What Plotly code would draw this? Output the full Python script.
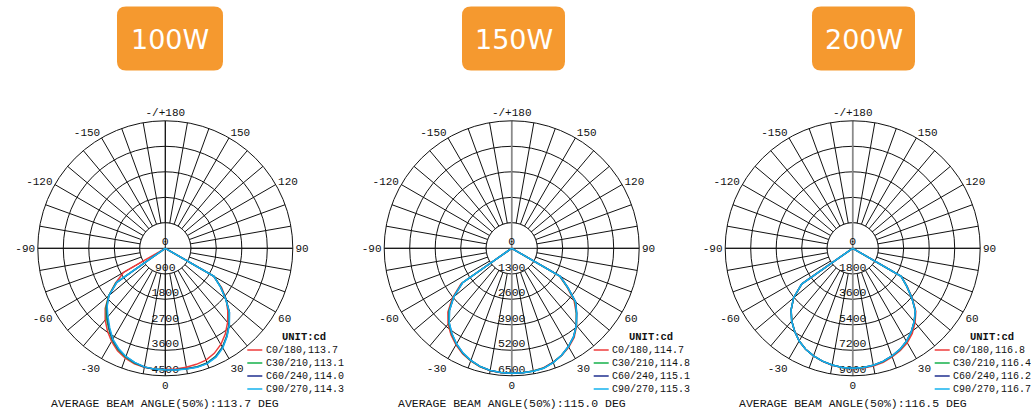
import numpy as np
import plotly.graph_objects as go

W, H = 1031, 409

# ---------------- data ----------------
titles = ["100W", "150W", "200W"]
avg_beam = [113.7, 115.0, 116.5]
plane_names = ["C0/180", "C30/210", "C60/240", "C90/270"]
plane_beam = [
    [113.7, 113.1, 114.0, 114.3],
    [114.7, 114.8, 115.1, 115.3],
    [116.8, 116.4, 116.2, 116.7],
]
radial_ticks = [
    [0, 900, 1800, 2700, 3600, 4500],
    [0, 1300, 2600, 3900, 5200, 6500],
    [0, 1800, 3600, 5400, 7200, 9000],
]
angle_tickvals = list(range(0, 360, 10))
angle_labels = {0: "0", 30: "30", 60: "60", 90: "90", 120: "120", 150: "150",
                180: "-/+180", 210: "-150", 240: "-120", 270: "-90", 300: "-60", 330: "-30"}

gamma = [-90, -60, -55, -50, -45, -40, -35, -30, -25, -20, -15, -10, -5, 0,
         5, 10, 15, 20, 25, 30, 35, 40, 45, 50, 55, 60, 90]

# 100W
c1_C0 = [0, 1700, 2150, 2600, 3000, 3300, 3560, 3790, 3990, 4130, 4220, 4265, 4280, 4280,
         4275, 4260, 4240, 4200, 4090, 3920, 3690, 3420, 3120, 2800, 2430, 1960, 0]
c1_C30 = [0, 0, 2130, 2610, 2960, 3230, 3480, 3740, 3945, 4090, 4195, 4258, 4284, 4290,
          4302, 4315, 4330, 4305, 4205, 4030, 3780, 3500, 3190, 2790, 2390, 1985, 0]
c1_C60 = [0, 0, 2090, 2600, 2920, 3180, 3450, 3720, 3920, 4070, 4180, 4255, 4282, 4290,
          4305, 4320, 4340, 4320, 4220, 4040, 3790, 3510, 3200, 2790, 2380, 1985, 0]
c1_C90 = [0, 0, 2080, 2600, 2900, 3150, 3420, 3700, 3900, 4060, 4170, 4250, 4280, 4290,
          4310, 4330, 4350, 4330, 4240, 4060, 3800, 3520, 3200, 2780, 2370, 1980, 0]
# 150W
c2_C0 = [0, 0, 3150, 3950, 4600, 5050, 5390, 5680, 5930, 6110, 6250, 6330, 6365, 6370,
         6365, 6350, 6300, 6180, 6030, 5820, 5550, 5150, 4650, 4150, 3450, 2800, 0]
c2_C30 = [0, 0, 3080, 3880, 4520, 4990, 5340, 5640, 5900, 6090, 6240, 6325, 6362, 6370,
          6368, 6355, 6320, 6190, 6020, 5790, 5510, 5130, 4670, 4220, 3480, 2830, 0]
c2_C60 = [0, 0, 3060, 3860, 4490, 4960, 5320, 5630, 5890, 6085, 6235, 6322, 6361, 6370,
          6370, 6358, 6325, 6195, 6015, 5780, 5500, 5120, 4690, 4260, 3510, 2860, 0]
c2_C90 = [0, 0, 3050, 3850, 4480, 4950, 5310, 5620, 5880, 6080, 6230, 6320, 6360, 6370,
          6370, 6360, 6330, 6200, 6020, 5780, 5500, 5130, 4680, 4250, 3500, 2850, 0]
# 200W
c3_C0 = [0, 0, 4380, 5440, 6140, 6690, 7140, 7550, 7860, 8080, 8260, 8380, 8450, 8480,
         8480, 8430, 8330, 8150, 7960, 7700, 7330, 6850, 6300, 5500, 4700, 3950, 0]
c3_C30 = [0, 0, 4390, 5445, 6145, 6695, 7145, 7555, 7860, 8080, 8250, 8370, 8440, 8470,
          8455, 8390, 8270, 8100, 7890, 7600, 7220, 6760, 6255, 5455, 4650, 3950, 0]
c3_C60 = [0, 0, 4400, 5450, 6150, 6700, 7150, 7560, 7860, 8080, 8250, 8370, 8440, 8470,
          8450, 8380, 8260, 8090, 7870, 7580, 7200, 6750, 6250, 5450, 4650, 3950, 0]
c3_C90 = [0, 0, 4400, 5450, 6150, 6700, 7150, 7560, 7860, 8080, 8250, 8370, 8440, 8470,
          8450, 8380, 8260, 8090, 7870, 7580, 7200, 6750, 6250, 5450, 4650, 3950, 0]

series = [
    [c1_C0, c1_C30, c1_C60, c1_C90],
    [c2_C0, c2_C30, c2_C60, c2_C90],
    [c3_C0, c3_C30, c3_C60, c3_C90],
]
colors = ["#ee3b3b", "#14b04a", "#1f2f8f", "#14b2ee"]

# ---------------- layout geometry (pixels) ----------------
centers_x = [165.3, 511.7, 852.7]
center_y = 248.3
R = 127.5
vaxis_colors = ["#111111", "#8a8a8a", "#8a8a8a"]
vaxis_widths = [1, 1.6, 1.6]
boxes = [(117, 223), (462, 565), (812, 915)]
box_y = (6.5, 70.5)

ink = "#111111"
mono = "Liberation Mono"


def px(x, y):
    return x / W, 1 - y / H


fig = go.Figure()
layout_polars = {}
annotations = []
shapes = []

for i in range(3):
    pname = "polar" if i == 0 else f"polar{i + 1}"
    sub = pname
    cx = centers_x[i]
    rmax = radial_ticks[i][-1]
    layout_polars[pname] = dict(
        domain=dict(x=[(cx - R) / W, (cx + R) / W],
                    y=[(H - center_y - R) / H, (H - center_y + R) / H]),
        bgcolor="white",
        angularaxis=dict(
            rotation=270, direction="counterclockwise",
            tickmode="array", tickvals=angle_tickvals,
            ticktext=[angle_labels.get(v, "") for v in angle_tickvals],
            showgrid=True, gridcolor=ink, gridwidth=1,
            showline=True, linecolor=ink, linewidth=1, ticks="",
            tickfont=dict(family=mono, size=11, color=ink),
        ),
        radialaxis=dict(
            range=[0, rmax], tickmode="array", tickvals=radial_ticks[i],
            showticklabels=False, showline=False, ticks="",
            showgrid=True, gridcolor=ink, gridwidth=1,
        ),
    )
    # white centre disc with inner ring
    th = np.linspace(0, 360, 181)
    fig.add_trace(go.Scatterpolar(
        r=[radial_ticks[i][1]] * len(th), theta=th, mode="lines",
        fill="toself", fillcolor="white", line=dict(color=ink, width=1),
        hoverinfo="skip", showlegend=False, subplot=sub))
    # main axes through the centre
    fig.add_trace(go.Scatterpolar(
        r=[rmax, 0, rmax], theta=[90, 0, 270], mode="lines",
        line=dict(color=ink, width=1), hoverinfo="skip", showlegend=False, subplot=sub))
    fig.add_trace(go.Scatterpolar(
        r=[rmax, 0, rmax], theta=[180, 0, 0], mode="lines",
        line=dict(color=vaxis_colors[i], width=vaxis_widths[i]),
        hoverinfo="skip", showlegend=False, subplot=sub))
    # radial tick labels
    fig.add_trace(go.Scatterpolar(
        r=radial_ticks[i], theta=[0] * len(radial_ticks[i]), mode="text",
        text=[str(v) for v in radial_ticks[i]], textposition="top center",
        textfont=dict(family=mono, size=11.5, color=ink),
        hoverinfo="skip", showlegend=False, subplot=sub))
    # curves
    for j in range(4):
        fig.add_trace(go.Scatterpolar(
            r=series[i][j], theta=gamma, mode="lines",
            line=dict(color=colors[j], width=1.5),
            name=f"{plane_names[j]},{plane_beam[i][j]}",
            showlegend=False, subplot=sub))

    # custom legend
    x_, y_ = px(cx + 139, 337)
    annotations.append(dict(x=x_, y=y_, xref="paper", yref="paper", text="<b>UNIT:cd</b>",
                            showarrow=False, xanchor="center", yanchor="middle",
                            font=dict(family=mono, size=10.5, color=ink)))
    rows = [350, 363, 376, 389]
    for j in range(4):
        x0, yy = px(cx + 82, rows[j])
        x1, _ = px(cx + 97, rows[j])
        shapes.append(dict(type="line", xref="paper", yref="paper", x0=x0, x1=x1, y0=yy, y1=yy,
                           line=dict(color=colors[j], width=1.5)))
        xt, _ = px(cx + 98.5, rows[j])
        annotations.append(dict(x=xt, y=yy, xref="paper", yref="paper",
                                text=f"{plane_names[j]},{plane_beam[i][j]}",
                                showarrow=False, xanchor="left", yanchor="middle",
                                font=dict(family=mono, size=10, color=ink)))
    # bottom caption
    xb, yb = px(cx, 403)
    annotations.append(dict(x=xb, y=yb, xref="paper", yref="paper",
                            text=f"AVERAGE BEAM ANGLE(50%):{avg_beam[i]:.1f} DEG",
                            showarrow=False, xanchor="center", yanchor="middle",
                            font=dict(family=mono, size=11.5, color=ink)))

    # orange title box
    bx0, bx1 = boxes[i]
    by0, by1 = box_y
    rc = 9

    def P(x, y):
        a, b = px(x, y)
        return f"{a:.6f},{b:.6f}"
    path = (f"M {P(bx0 + rc, by0)} L {P(bx1 - rc, by0)} Q {P(bx1, by0)} {P(bx1, by0 + rc)} "
            f"L {P(bx1, by1 - rc)} Q {P(bx1, by1)} {P(bx1 - rc, by1)} "
            f"L {P(bx0 + rc, by1)} Q {P(bx0, by1)} {P(bx0, by1 - rc)} "
            f"L {P(bx0, by0 + rc)} Q {P(bx0, by0)} {P(bx0 + rc, by0)} Z")
    shapes.append(dict(type="path", xref="paper", yref="paper", path=path,
                       fillcolor="#f5992f", line=dict(width=0), layer="below"))
    xt, yt = px((bx0 + bx1) / 2, (by0 + by1) / 2 + 1)
    annotations.append(dict(x=xt, y=yt, xref="paper", yref="paper", text=titles[i],
                            showarrow=False, xanchor="center", yanchor="middle",
                            font=dict(family="DejaVu Sans", size=27, color="white")))

fig.update_layout(
    width=W, height=H, margin=dict(l=0, r=0, t=0, b=0),
    paper_bgcolor="white", plot_bgcolor="white",
    showlegend=False, annotations=annotations, shapes=shapes,
    **layout_polars,
)

fig.write_html("out.html", config={"displayModeBar": False},
               post_script="document.body.style.margin='0';document.body.style.overflow='hidden';")
